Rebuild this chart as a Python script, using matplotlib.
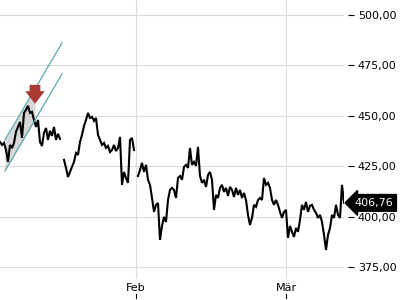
import matplotlib
matplotlib.use("Agg")
import matplotlib.pyplot as plt
import matplotlib.transforms as mtransforms
import numpy as np

# price samples, evenly spaced in time (NaN = gap in the data)
price = [
    437.0, 435.5, 436.5, 433.0, 427.1, 435.5, 434.0, 436.5, 442.0, 444.4,
    446.9, 439.0, 451.4, 452.9, 454.9, 451.4, 451.9, 447.9, 444.4, 447.9,
    437.0, 435.0, 441.5, 443.9, 438.0, 442.5, 440.0, 444.4, 438.0, 441.0,
    438.5, np.nan, 428.1, 424.1, 419.6, 422.1, 424.6, 427.1, 431.5, 430.6,
    437.0, 440.5, 444.9, 447.9, 451.4, 448.9, 449.4, 447.4, 448.9, 440.5,
    438.0, 435.5, 436.5, 434.0, 435.0, 432.0, 433.0, 435.5, 432.5, 434.0,
    439.5, 415.7, 422.1, 419.1, 416.7, 438.0, 439.0, 433.0, np.nan, 420.1,
    423.1, 426.6, 422.1, 425.6, 418.2, 415.7, 409.2, 402.3, 405.8, 406.7,
    388.4, 395.3, 399.8, 397.3, 408.2, 413.2, 414.2, 413.2, 409.2, 419.1,
    420.1, 418.2, 424.6, 425.6, 424.1, 434.0, 425.6, 427.1, 425.1, 434.5,
    420.1, 416.7, 418.2, 414.7, 420.6, 422.1, 418.2, 403.3, 410.7, 409.2,
    414.2, 415.7, 412.2, 414.2, 410.2, 414.7, 413.2, 409.7, 414.2, 410.7,
    413.2, 409.2, 411.7, 408.2, 400.8, 395.8, 399.3, 405.8, 404.8, 408.2,
    409.2, 408.2, 419.1, 415.7, 416.7, 414.2, 408.2, 405.8, 408.2, 405.8,
    402.3, 399.3, 402.3, 403.3, 389.4, 395.3, 392.4, 389.9, 394.3, 392.4,
    398.3, 405.8, 403.3, 407.2, 402.3, 405.3, 405.8, 403.3, 401.8, 399.3,
    400.8, 397.3, 390.9, 383.4, 390.9, 394.3, 400.8, 399.3, 405.8, 400.8,
    399.3, 415.7, 406.76,
]
last_price = 406.76

yticks = [375, 400, 425, 450, 475, 500]
month_labels = ["Feb", "Mär"]
month_pos = [68, 143]

# trend channel (start/end sample, price)
chan_x = [2.5, 31]
chan_upper = [438.0, 486.1]
chan_lower = [422.6, 470.7]
shade_x = [2.5, 17.5]
arrow_x = 17.5
arrow_top, arrow_tip = 465.3, 455.9

teal = "#5aa8ad"
red = "#a83a32"


def fmt(v):
    return f"{v:.2f}".replace(".", ",")


fig = plt.figure(figsize=(4, 3), dpi=100)
ax = fig.add_axes([0, 0.07, 0.86, 0.93])

x = np.arange(len(price))
ax.plot(x, price, color="black", lw=1.5, solid_joinstyle="miter")

# channel
ax.plot(chan_x, chan_upper, color=teal, lw=0.9)
ax.plot(chan_x, chan_lower, color=teal, lw=0.9)
sx = np.array(shade_x)
up = np.interp(sx, chan_x, chan_upper)
lo = np.interp(sx, chan_x, chan_lower)
ax.fill_between(sx, lo, up, color="#c4c4c4", alpha=0.65, lw=0)
ax.annotate("", xy=(arrow_x, arrow_tip), xytext=(arrow_x, arrow_top),
            arrowprops=dict(arrowstyle="simple,head_width=1.0,head_length=0.65,tail_width=0.55",
                            mutation_scale=14, color=red, lw=0, shrinkA=0, shrinkB=0))

ax.set_xlim(0, len(price) - 1)
ax.set_ylim(369.0, 507.4)

for v in yticks:
    ax.axhline(v, color="#dcdcdc", lw=0.8, zorder=0)
for p in month_pos:
    ax.axvline(p, color="#dcdcdc", lw=0.8, zorder=0)

ax.yaxis.tick_right()
ax.set_yticks(yticks)
ax.set_yticklabels([fmt(v) for v in yticks])
ax.spines["right"].set_position(("outward", 3))
for s in ax.spines.values():
    s.set_visible(False)
ax.tick_params(axis="y", length=4, width=0.8, pad=3, labelsize=8, colors="black")

ax.set_xticks(month_pos)
ax.set_xticklabels(month_labels)
ax.tick_params(axis="x", length=0, pad=3, labelsize=8)
trans = mtransforms.blended_transform_factory(ax.transData, ax.transAxes)
for p in month_pos:
    ax.plot([p, p], [-0.052, -0.068], color="black", lw=0.8, transform=trans, clip_on=False)

# last price tag
ax.text(1.03, last_price, fmt(last_price), transform=mtransforms.blended_transform_factory(ax.transAxes, ax.transData),
        ha="left", va="center", color="white", fontsize=8,
        bbox=dict(boxstyle="larrow,pad=0.3", fc="black", ec="black"))

fig.savefig("out.png", dpi=100)
